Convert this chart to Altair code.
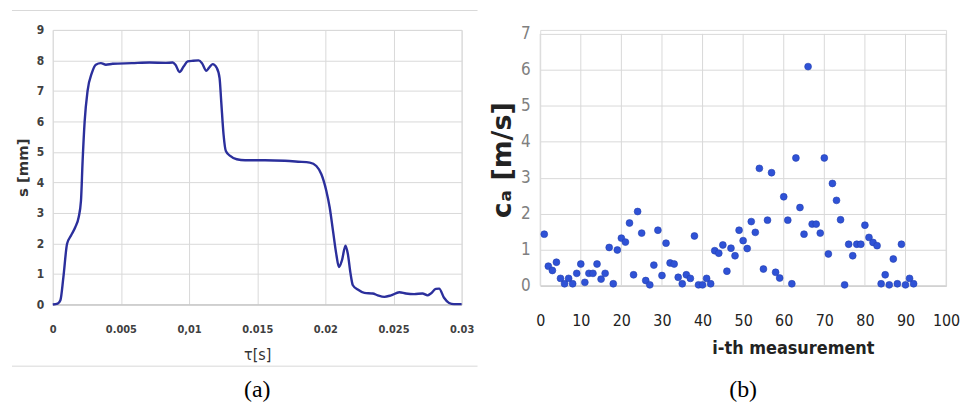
import altair as alt
import pandas as pd

# ---- (a) displacement curve ----
tau = [0, 0.00036, 0.00056, 0.00078, 0.00105, 0.00134, 0.00165, 0.0019, 0.00207, 0.00219,
       0.00234, 0.00255, 0.00287, 0.00316, 0.00353, 0.0039, 0.0044, 0.0058, 0.0071, 0.0083,
       0.0088, 0.009, 0.0093, 0.0096, 0.0099, 0.0103, 0.0107, 0.01095, 0.01127, 0.01148,
       0.01173, 0.01204, 0.01224, 0.01236, 0.01253, 0.0127, 0.01302, 0.0135, 0.01411, 0.01557,
       0.01703, 0.018, 0.01886, 0.01934, 0.01971, 0.02007, 0.02032, 0.02056, 0.0208, 0.021,
       0.02122, 0.02148, 0.02165, 0.02185, 0.02202, 0.02238, 0.02287, 0.02348, 0.02384, 0.02433,
       0.02482, 0.02543, 0.02591, 0.02652, 0.02713, 0.0275, 0.02774, 0.02811, 0.02835, 0.02871,
       0.02908, 0.02944, 0.03]
s_mm = [0, 0.03, 0.14, 0.9, 1.99, 2.26, 2.53, 2.86, 3.4, 4.7,
        6.0, 6.99, 7.59, 7.86, 7.91, 7.86, 7.89, 7.91, 7.93, 7.92,
        7.93, 7.86, 7.62, 7.8, 7.97, 7.99, 8.0, 7.91, 7.66, 7.77,
        7.88, 7.75, 7.42, 6.66, 5.58, 5.03, 4.87, 4.76, 4.73, 4.73,
        4.71, 4.68, 4.65, 4.54, 4.27, 3.73, 3.18, 2.42, 1.66, 1.23,
        1.45, 1.93, 1.66, 1.01, 0.63, 0.49, 0.38, 0.36, 0.3, 0.25,
        0.3, 0.4, 0.36, 0.34, 0.36, 0.3, 0.36, 0.51, 0.52, 0.22,
        0.05, 0.01, 0.01]
x_ticks_a = [0, 0.005, 0.01, 0.015, 0.02, 0.025, 0.03]
x_tick_labels_a = ["0", "0.005", "0,01", "0.015", "0.02", "0.025", "0.03"]
y_ticks_a = list(range(0, 10))

# ---- (b) scatter ----
meas_i = list(range(1, 93))
ca = [1.43, 0.54, 0.42, 0.65, 0.2, 0.05, 0.2, 0.05, 0.34, 0.6,
      0.09, 0.34, 0.34, 0.6, 0.18, 0.34, 1.06, 0.05, 0.99, 1.32,
      1.21, 1.74, 0.3, 2.06, 1.46, 0.14, 0.02, 0.57, 1.54, 0.28,
      1.18, 0.63, 0.6, 0.23, 0.05, 0.3, 0.2, 1.38, 0.02, 0.02,
      0.2, 0.05, 0.97, 0.9, 1.13, 0.4, 1.04, 0.83, 1.54, 1.25,
      1.03, 1.78, 1.48, 3.26, 0.46, 1.82, 3.14, 0.37, 0.21, 2.47,
      1.82, 0.05, 3.55, 2.17, 1.43, 6.09, 1.71, 1.71, 1.46, 3.55,
      0.88, 2.84, 2.37, 1.83, 0.02, 1.15, 0.83, 1.15, 1.15, 1.68,
      1.34, 1.2, 1.11, 0.05, 0.3, 0.02, 0.74, 0.05, 1.15, 0.02,
      0.2, 0.05]
x_ticks_b = list(range(0, 101, 10))
y_ticks_b = list(range(0, 8))

df_a = pd.DataFrame({"tau": tau, "s": s_mm})
df_b = pd.DataFrame({"i": meas_i, "ca": ca})
df_grid_b = pd.DataFrame({"v": x_ticks_b})
one = pd.DataFrame({"k": [0]})

NARROW = "DejaVu Sans Condensed"
GRID = "#d9d9d9"

label_expr_a = " : ".join(
    [f"datum.value == {v} ? '{l}'" for v, l in zip(x_ticks_a, x_tick_labels_a)] + ["datum.label"]
)

line_a = alt.Chart(df_a).mark_line(
    color="#2b2f9c", strokeWidth=2.4, interpolate="monotone"
).encode(
    x=alt.X("tau:Q", scale=alt.Scale(domain=[0, 0.03], nice=False),
            axis=alt.Axis(values=x_ticks_a, labelExpr=label_expr_a, title="τ[s]",
                          grid=True, gridColor=GRID, ticks=False, domain=True,
                          domainColor="#bfbfbf", labelFont=NARROW, labelFontSize=11,
                          labelFontWeight="bold", labelColor="#404040", labelPadding=19,
                          labelOverlap=False, labelFlush=False,
                          titleFont=NARROW, titleFontSize=16, titleFontWeight="normal",
                          titleColor="#333333", titlePadding=12)),
    y=alt.Y("s:Q", scale=alt.Scale(domain=[0, 9], nice=False),
            axis=alt.Axis(values=y_ticks_a, title="s [mm]", grid=True, gridColor=GRID,
                          ticks=False, domain=False, labelFont=NARROW, labelFontSize=12,
                          labelFontWeight="bold", labelColor="#404040", labelPadding=9,
                          titleFont="DejaVu Sans", titleFontSize=15, titleFontWeight="bold",
                          titleColor="#333333", titlePadding=6)),
)

border_top = alt.Chart(one).mark_rule(color=GRID, strokeWidth=1).encode(
    x=alt.value(-41), x2=alt.value(427), y=alt.value(-19.5))
border_bot = alt.Chart(one).mark_rule(color=GRID, strokeWidth=1).encode(
    x=alt.value(-41), x2=alt.value(427), y=alt.value(338))

chart_a = alt.layer(line_a, border_top, border_bot).properties(
    width=411, height=276,
    title=alt.TitleParams("(a)", orient="bottom", font="Liberation Serif, DejaVu Serif, serif",
                          fontSize=24, fontWeight="normal", color="#000000", offset=12),
)

W_B = 408
H_B = 257
TOP_B = 4

vgrid_b = alt.Chart(df_grid_b).mark_rule(color=GRID, strokeWidth=1).encode(
    x=alt.X("v:Q", scale=alt.Scale(domain=[0, 100], nice=False)),
    y=alt.value(TOP_B), y2=alt.value(H_B))

pts_b = alt.Chart(df_b).mark_circle(size=48, color="#2f52d6", opacity=1,
                                    stroke="#2440b0", strokeWidth=0.6).encode(
    x=alt.X("i:Q", scale=alt.Scale(domain=[0, 100], nice=False),
            axis=alt.Axis(values=x_ticks_b, title="i-th measurement", grid=False,
                          ticks=False, domain=True, domainColor="#c8c8c8",
                          labelFont=NARROW, labelFontSize=16, labelColor="#222222",
                          labelPadding=27, labelOverlap=False, labelFlush=False,
                          titleFont=NARROW, titleFontSize=18, titleFontWeight="bold",
                          titleColor="#222222", titlePadding=11, titleX=254,
                          titleAnchor="middle")),
    y=alt.Y("ca:Q", scale=alt.Scale(domain=[0, 7], nice=False, range=[H_B, TOP_B]),
            axis=alt.Axis(values=y_ticks_b, title="cₐ [m/s]", grid=True, gridColor=GRID,
                          ticks=False, domain=False, labelFont=NARROW, labelFontSize=17,
                          labelColor="#808080", labelPadding=10, titleFont="DejaVu Sans",
                          titleFontSize=27, titleFontWeight="bold", titleColor="#222222",
                          titlePadding=4)),
)

chart_b = alt.layer(vgrid_b, pts_b).properties(
    width=W_B, height=H_B,
    title=alt.TitleParams("(b)", orient="bottom", font="Liberation Serif, DejaVu Serif, serif",
                          fontSize=24, fontWeight="normal", color="#000000", offset=21),
)

chart = alt.hconcat(chart_a, chart_b, spacing=79, bounds="flush").properties(
    padding={"left": 3, "top": 0, "right": 0, "bottom": 0}
).configure_view(stroke=None).configure(background="white")

chart.save("out.html", embed_options={"renderer": "svg", "actions": False})
